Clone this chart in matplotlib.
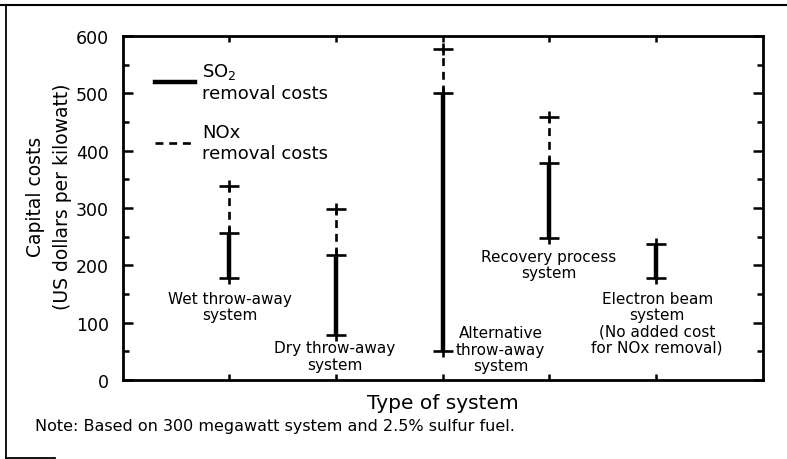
import matplotlib.pyplot as plt
from matplotlib.lines import Line2D

plt.rcParams['font.family'] = ['DejaVu Sans']

# --- data --------------------------------------------------------------
systems = ['Wet throw-away\nsystem', 'Dry throw-away\nsystem',
           'Alternative\nthrow-away\nsystem', 'Recovery process\nsystem',
           'Electron beam\nsystem\n(No added cost\nfor NOx removal)']
so2_low = [178, 78, 50, 248, 178]
so2_high = [257, 218, 500, 378, 238]
nox_high = [338, 298, 577, 458, None]   # electron beam: no added NOx cost

xpos = [1, 2, 3, 4, 5]

fig = plt.figure(figsize=(7.87, 4.6), dpi=100)
ax = fig.add_axes([0.156, 0.1717, 0.8133, 0.7478])

for x, lo, hi, nx in zip(xpos, so2_low, so2_high, nox_high):
    ax.vlines(x, lo, hi, colors='black', linewidth=3.2)
    ends = [lo, hi]
    if nx is not None:
        ax.plot([x, x], [hi, nx], color='black', linewidth=1.9, dashes=(3, 2.2))
        ends.append(nx)
    # crosses at the ends of each bar
    ax.plot([x] * len(ends), ends, ls='none', marker='_', ms=15, mew=1.9, color='black')
    ax.plot([x] * len(ends), ends, ls='none', marker='|', ms=9, mew=1.9, color='black')

# labels under / beside each bar
lbl_style = dict(ha='center', va='center', fontsize=11, linespacing=1.1)
ax.text(1.0, 128, systems[0], **lbl_style)
ax.text(1.99, 42, systems[1], **lbl_style)
ax.text(3.54, 54, systems[2], **lbl_style)
ax.text(3.99, 202, systems[3], **lbl_style)
ax.text(5.01, 100, systems[4], **lbl_style)

ax.set_xlim(0, 6)
ax.set_ylim(0, 600)
ax.set_yticks(range(0, 601, 100))
ax.set_yticks(range(50, 600, 100), minor=True)
ax.set_xticks(xpos)
ax.set_xticklabels([])
ax.tick_params(axis='both', which='both', direction='in', top=True, right=True,
               width=1.8, labelsize=12.5)
ax.tick_params(axis='y', which='major', length=7, pad=10)
ax.tick_params(axis='y', which='minor', length=4)
ax.tick_params(axis='x', which='major', length=4)
for s in ax.spines.values():
    s.set_linewidth(2)

ax.set_ylabel('Capital costs\n(US dollars per kilowatt)', fontsize=13.5,
              linespacing=1.5)
ax.yaxis.set_label_coords(-0.08, 0.535)
ax.set_xlabel('Type of system', fontsize=14.5, labelpad=6)

handles = [Line2D([], [], color='black', linewidth=3.2),
           Line2D([], [], color='black', linewidth=1.9, dashes=(3, 2.2))]
ax.legend(handles, ['SO$_2$\nremoval costs', 'NOx\nremoval costs'],
          loc='upper left', bbox_to_anchor=(0.025, 0.975), frameon=False,
          fontsize=13, handlelength=2.2, handletextpad=0.4, labelspacing=1.2)

fig.text(0.044, 0.072, 'Note: Based on 300 megawatt system and 2.5% sulfur fuel.',
         fontsize=11.5, va='center')

# outer frame of the figure box
fig.add_artist(Line2D([0.0, 1.0], [0.987, 0.987], color='black', linewidth=1.5,
                      transform=fig.transFigure))
fig.add_artist(Line2D([0.007, 0.007], [0.987, 0.003], color='black', linewidth=1.3,
                      transform=fig.transFigure))
fig.add_artist(Line2D([0.007, 0.07], [0.003, 0.003], color='black', linewidth=1.3,
                      transform=fig.transFigure))

fig.savefig('out.png', dpi=100)
